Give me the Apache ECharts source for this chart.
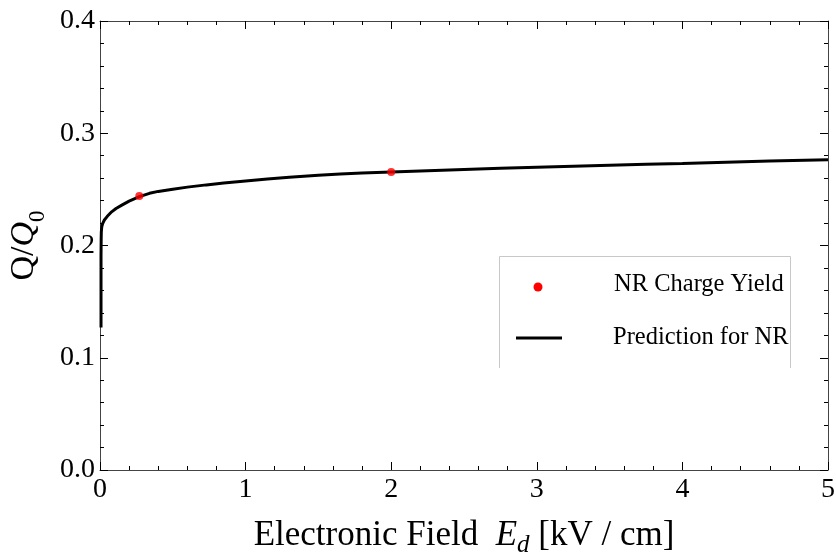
<!DOCTYPE html>
<html>
<head>
<meta charset="utf-8">
<script src="https://cdn.jsdelivr.net/npm/echarts@6/dist/echarts.min.js"></script>
<style>html,body{margin:0;padding:0;background:#fff;overflow:hidden;}#chart{width:836px;height:553px;}</style>
</head>
<body>
<div id="chart"></div>
<script>
// Prediction curve
var fieldX = [0.007, 0.007, 0.007, 0.008, 0.009, 0.012, 0.018, 0.03, 0.05, 0.08, 0.11, 0.15, 0.2, 0.27, 0.34, 0.4, 0.5, 0.6, 0.73, 0.85, 1.0, 1.15, 1.3, 1.5, 1.65, 1.8, 2.0, 2.25, 2.5, 2.75, 3.0, 3.25, 3.5, 3.75, 4.0, 4.3, 4.6, 5.0];
var yieldQ = [0.127, 0.16, 0.19, 0.205, 0.212, 0.2165, 0.2195, 0.2227, 0.226, 0.230, 0.2330, 0.2360, 0.2395, 0.2435, 0.2465, 0.2482, 0.2502, 0.2520, 0.2540, 0.2557, 0.2575, 0.2592, 0.2607, 0.2625, 0.2637, 0.2646, 0.2655, 0.2667, 0.2678, 0.2688, 0.2697, 0.2706, 0.2715, 0.2723, 0.2730, 0.2742, 0.2752, 0.2765];
// Measured NR charge yield
var measX = [0.27, 2.0];
var measQ = [0.2440, 0.2655];
// Ticks
var xTicks = ['0', '1', '2', '3', '4', '5'];
var yTicks = ['0.0', '0.1', '0.2', '0.3', '0.4'];

var curve = fieldX.map(function (x, i) { return [x, yieldQ[i]]; });
var pts = measX.map(function (x, i) { return [x, measQ[i]]; });

var FONT = 'Liberation Serif';
var axisColor = '#444';

function xAxisCfg(pos, labels) {
  return {
    type: 'value', position: pos, min: 0, max: 5, interval: 1,
    axisLine: { show: true, onZero: false, lineStyle: { color: axisColor, width: 1 } },
    axisTick: { show: true, inside: true, length: 8, lineStyle: { color: '#000' } },
    minorTick: { show: true, splitNumber: 5, length: 4, lineStyle: { color: '#000' } },
    splitLine: { show: false },
    axisLabel: {
      show: labels, margin: 6, color: '#000', fontFamily: FONT, fontSize: 28,
      formatter: function (v) { return xTicks[Math.round(v)]; }
    }
  };
}
function yAxisCfg(pos, labels) {
  return {
    type: 'value', position: pos, min: 0, max: 0.4, interval: 0.1,
    axisLine: { show: true, onZero: false, lineStyle: { color: axisColor, width: 1 } },
    axisTick: { show: true, inside: true, length: 8, lineStyle: { color: '#000' } },
    minorTick: { show: true, splitNumber: 5, length: 4, lineStyle: { color: '#000' } },
    splitLine: { show: false },
    axisLabel: {
      show: labels, margin: 5, color: '#000', fontFamily: FONT, fontSize: 28,
      formatter: function (v) { return yTicks[Math.round(v * 10)]; }
    }
  };
}

var xb = xAxisCfg('bottom', true);
xb.name = '{r|Electronic Field  }{i|E}{s|d}{r| [kV / cm]}';
xb.nameLocation = 'middle';
xb.nameGap = 48;
xb.nameTextStyle = {
  color: '#000', fontFamily: FONT, fontSize: 35,
  rich: {
    r: { fontFamily: FONT, fontSize: 35, color: '#000' },
    i: { fontFamily: FONT, fontSize: 35, fontStyle: 'italic', color: '#000' },
    s: { fontFamily: FONT, fontSize: 25, fontStyle: 'italic', color: '#000', verticalAlign: 'bottom', padding: [0, 0, -5, 0] }
  }
};
var yl = yAxisCfg('left', true);
yl.name = '{r|Q/}{i|Q}{s|0}';
yl.nameLocation = 'middle';
yl.nameGap = 58;
yl.nameRotate = 90;
yl.nameTextStyle = {
  color: '#000', fontFamily: FONT, fontSize: 34,
  rich: {
    r: { fontFamily: FONT, fontSize: 34, color: '#000' },
    i: { fontFamily: FONT, fontSize: 34, fontStyle: 'italic', color: '#000' },
    s: { fontFamily: FONT, fontSize: 23, color: '#000', verticalAlign: 'bottom', padding: [0, 0, -8, 0] }
  }
};

var chart = echarts.init(document.getElementById('chart'), null, { renderer: 'canvas' });
chart.setOption({
  backgroundColor: '#fff',
  animation: false,
  grid: { left: 100, right: 8, top: 21, bottom: 83, containLabel: false, outerBoundsMode: 'none' },
  xAxis: [xb, xAxisCfg('top', false)],
  yAxis: [yl, yAxisCfg('right', false)],
  series: [
    {
      name: 'Prediction for NR', type: 'line', data: curve, xAxisIndex: 0, yAxisIndex: 0,
      showSymbol: false, smooth: false, lineStyle: { color: '#000', width: 3 }, z: 2
    },
    {
      name: 'NR Charge Yield', type: 'scatter', data: pts, xAxisIndex: 0, yAxisIndex: 0,
      symbol: 'circle', symbolSize: 8, itemStyle: { color: '#ff0000' }, z: 3
    }
  ],
  graphic: [
    { type: 'polyline', shape: { points: [[499.5, 368], [499.5, 256.5], [790.5, 256.5], [790.5, 368]] },
      style: { stroke: '#c8c8c8', fill: null, lineWidth: 1 }, z: 10 },
    { type: 'circle', shape: { cx: 538, cy: 287, r: 4.5 }, style: { fill: '#ff0000' }, z: 10 },
    { type: 'line', shape: { x1: 516, y1: 338, x2: 562, y2: 338 }, style: { stroke: '#000', lineWidth: 3 }, z: 10 },
    { type: 'text', x: 614, y: 285, style: { text: 'NR Charge Yield', font: '24.5px "Liberation Serif"', fill: '#000', textVerticalAlign: 'middle' }, z: 10 },
    { type: 'text', x: 613, y: 338, style: { text: 'Prediction for NR', font: '24.5px "Liberation Serif"', fill: '#000', textVerticalAlign: 'middle' }, z: 10 }
  ]
});
</script>
</body>
</html>
